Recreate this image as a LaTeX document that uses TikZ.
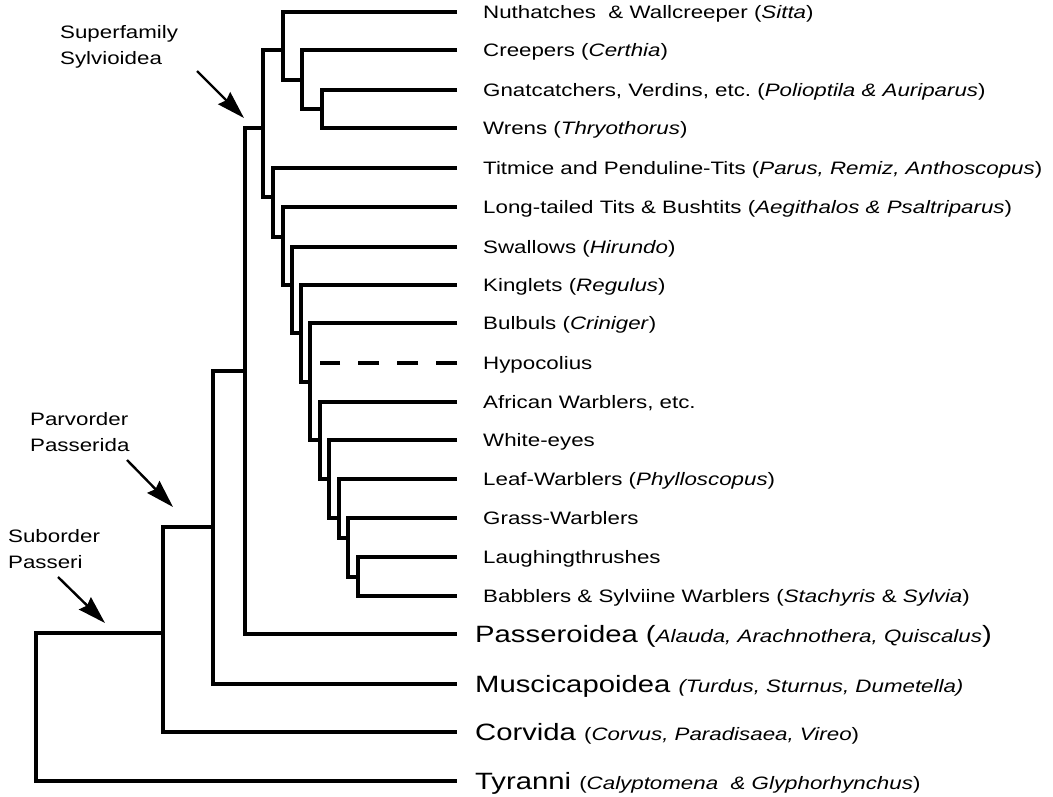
\documentclass[tikz,border=0pt]{standalone}
\usepackage{fontspec}
\setmainfont{Liberation Sans}[FakeStretch=1.24]
\usetikzlibrary{arrows.meta}
\newcommand{\sm}[1]{{\fontsize{18}{21}\selectfont #1}}

\begin{document}
\begin{tikzpicture}[x=1pt,y=-1pt,
		branch/.style={line width=3.4pt, line join=miter},
		leaf/.style={anchor=west, inner xsep=26pt, inner ysep=0pt,
			text height=12.9pt, text depth=0pt, font=\fontsize{18}{21}\selectfont},
		group/.style={leaf, inner xsep=18pt, text height=17.2pt, font=\fontsize{23.6}{28}\selectfont},
		tag/.style={anchor=north west, align=left, inner sep=0pt, font=\fontsize{18}{26}\selectfont},
		pointer/.style={line width=2.4pt, -{Stealth[length=28pt,width=17pt,inset=3pt]}}]
	\useasboundingbox (0,0) rectangle (1053,796);
	
	% leaves
	\foreach \leafname/\yy/\txt in {
		nut/12/{Nuthatches\ \ \& Wallcreeper (\textit{Sitta})},
		cree/50/{Creepers (\textit{Certhia})},
		gnat/90/{Gnatcatchers, Verdins, etc.\ (\textit{Polioptila \& Auriparus})},
		wren/128/{Wrens (\textit{Thryothorus})},
		tit/168/{Titmice and Penduline-Tits (\textit{Parus, Remiz, Anthoscopus})},
		long/207/{Long-tailed Tits \& Bushtits (\textit{Aegithalos \& Psaltriparus})},
		swal/247/{Swallows (\textit{Hirundo})},
		king/285/{Kinglets (\textit{Regulus})},
		bulb/323/{Bulbuls (\textit{Criniger})},
		hypo/363/{Hypocolius},
		afr/402/{African Warblers, etc.},
		white/440/{White-eyes},
		leafw/479/{Leaf-Warblers (\textit{Phylloscopus})},
		grass/518/{Grass-Warblers},
		laugh/557/{Laughingthrushes},
		babb/596/{Babblers \& Sylviine Warblers (\textit{Stachyris} \& \textit{Sylvia})}}
	\node[leaf] (\leafname) at (457,\yy) {\txt};
	
	\node[group] (passer) at (457,634) {Passeroidea (\sm{\textit{Alauda, Arachnothera, Quiscalus}})};
	\node[group] (musc) at (457,684) {Muscicapoidea \sm{\textit{(Turdus, Sturnus, Dumetella)}}};
	\node[group] (corv) at (457,732) {Corvida \sm{(\textit{Corvus, Paradisaea, Vireo})}};
	\node[group] (tyr) at (457,781) {Tyranni \sm{(\textit{Calyptomena\ \ \& Glyphorhynchus})}};
	
	% clades
	\coordinate (gw) at (322,109);
	\coordinate (cr) at (302,80);
	\coordinate (nu) at (283,50);
	\coordinate (sy) at (263,128);
	\coordinate (ti) at (273,197);
	\coordinate (lt) at (283,237);
	\coordinate (sw) at (292,285);
	\coordinate (ki) at (301,333);
	\coordinate (bu) at (310,382);
	\coordinate (af) at (320,440);
	\coordinate (we) at (329,479);
	\coordinate (lw) at (339,518);
	\coordinate (gr) at (348,538);
	\coordinate (la) at (358,577);
	\coordinate (ps) at (245,371);
	\coordinate (mu) at (213,527);
	\coordinate (pa) at (163,633);
	\coordinate (root) at (36,707);
	
	\begin{scope}[branch]
		\draw (gnat.west) -| (gw) |- (wren.west);
		\draw (cree.west) -| (cr) |- (gw);
		\draw (nut.west) -| (nu) |- (cr);
		\draw (nu) -| (sy) |- (ti);
		\draw (tit.west) -| (ti) |- (lt);
		\draw (long.west) -| (lt) |- (sw);
		\draw (swal.west) -| (sw) |- (ki);
		\draw (king.west) -| (ki) |- (bu);
		\draw (bulb.west) -| (bu) |- (af);
		\draw (afr.west) -| (af) |- (we);
		\draw (white.west) -| (we) |- (lw);
		\draw (leafw.west) -| (lw) |- (gr);
		\draw (grass.west) -| (gr) |- (la);
		\draw (laugh.west) -| (la) |- (babb.west);
		\draw (sy) -| (ps) |- (passer.west);
		\draw (ps) -| (mu) |- (musc.west);
		\draw (mu) -| (pa) |- (corv.west);
		\draw (pa) -| (root) |- (tyr.west);
		\draw[dash pattern=on 21pt off 18pt] (hypo.west) -- (hypo.west -| af);
	\end{scope}
	
	% taxon ranks
	\node[tag] (sylv) at (60,25) {Superfamily\\Sylvioidea};
	\node[tag] (pass) at (30,412) {Parvorder\\Passerida};
	\node[tag] (subo) at (8,529) {Suborder\\Passeri};
	
	\coordinate (s1) at (197,71);
	\coordinate (s2) at (244,118);
	\coordinate (p1) at (127,460);
	\coordinate (p2) at (173,507);
	\coordinate (o1) at (58,577);
	\coordinate (o2) at (105,623);
	\draw[pointer] (s1) -- (s2);
	\draw[pointer] (p1) -- (p2);
	\draw[pointer] (o1) -- (o2);
\end{tikzpicture}
\end{document}
